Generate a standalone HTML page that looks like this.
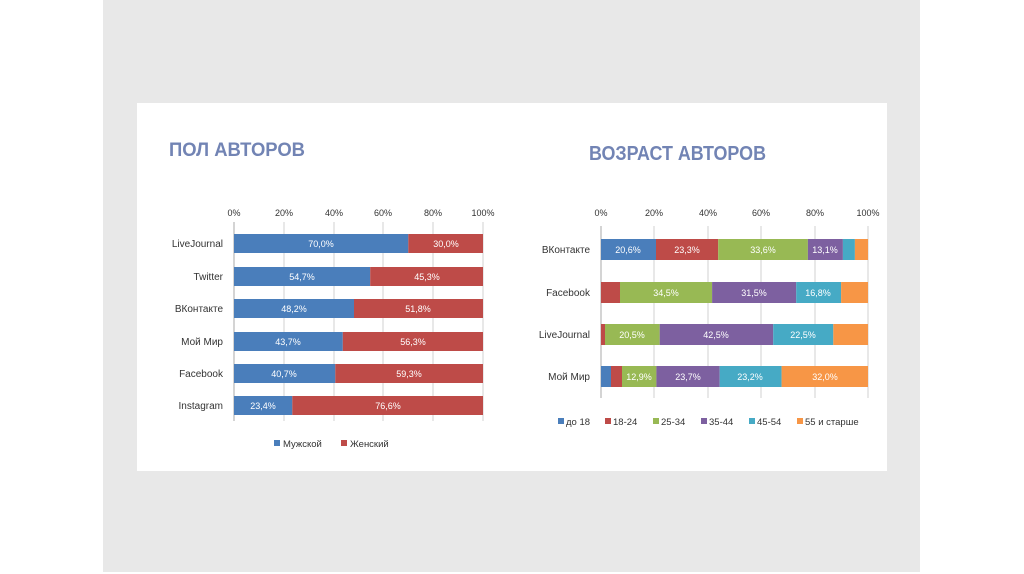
<!DOCTYPE html>
<html><head><meta charset="utf-8"><style>
html,body{margin:0;padding:0;background:#fff;}
svg{display:block;font-family:"Liberation Sans",sans-serif;}
</style></head><body>
<svg width="1024" height="574" viewBox="0 0 1024 574" xmlns="http://www.w3.org/2000/svg">
<rect x="0" y="0" width="1024" height="574" fill="#fff"/>
<rect x="103" y="0" width="817" height="572" fill="#e8e8e8"/>
<rect x="137" y="103" width="750" height="368" fill="#fff"/>
<text x="169" y="156" font-size="19" font-weight="bold" fill="#7284b4" textLength="136" lengthAdjust="spacingAndGlyphs">ПОЛ АВТОРОВ</text>
<text x="589" y="160" font-size="20" font-weight="bold" fill="#7284b4" textLength="177" lengthAdjust="spacingAndGlyphs">ВОЗРАСТ АВТОРОВ</text>

<!-- left chart -->
<g font-size="9" fill="#333">
<g text-anchor="middle">
<text x="234" y="216">0%</text><text x="284" y="216">20%</text><text x="334" y="216">40%</text><text x="383" y="216">60%</text><text x="433" y="216">80%</text><text x="483" y="216">100%</text>
</g>
<g stroke="#d0d0d0" stroke-width="1">
<line x1="284" y1="222" x2="284" y2="421"/><line x1="334" y1="222" x2="334" y2="421"/><line x1="383" y1="222" x2="383" y2="421"/><line x1="433" y1="222" x2="433" y2="421"/><line x1="483" y1="222" x2="483" y2="421"/>
<line x1="234" y1="222" x2="234" y2="421" stroke="#aaa"/>
</g>
<g text-anchor="end" font-size="10">
<text x="223" y="247">LiveJournal</text><text x="223" y="280">Twitter</text><text x="223" y="312">ВКонтакте</text><text x="223" y="345">Мой Мир</text><text x="223" y="377">Facebook</text><text x="223" y="409">Instagram</text>
</g>
<g>
<rect x="234" y="234" width="174.3" height="19" fill="#4a7ebb"/><rect x="408.3" y="234" width="74.7" height="19" fill="#be4b48"/>
<rect x="234" y="267" width="136.2" height="19" fill="#4a7ebb"/><rect x="370.2" y="267" width="112.8" height="19" fill="#be4b48"/>
<rect x="234" y="299" width="120" height="19" fill="#4a7ebb"/><rect x="354" y="299" width="129" height="19" fill="#be4b48"/>
<rect x="234" y="332" width="108.8" height="19" fill="#4a7ebb"/><rect x="342.8" y="332" width="140.2" height="19" fill="#be4b48"/>
<rect x="234" y="364" width="101.3" height="19" fill="#4a7ebb"/><rect x="335.3" y="364" width="147.7" height="19" fill="#be4b48"/>
<rect x="234" y="396" width="58.3" height="19" fill="#4a7ebb"/><rect x="292.3" y="396" width="190.7" height="19" fill="#be4b48"/>
</g>
<g text-anchor="middle" fill="#fff" font-size="9">
<text x="321" y="247">70,0%</text><text x="446" y="247">30,0%</text>
<text x="302" y="280">54,7%</text><text x="427" y="280">45,3%</text>
<text x="294" y="312">48,2%</text><text x="418" y="312">51,8%</text>
<text x="288" y="345">43,7%</text><text x="413" y="345">56,3%</text>
<text x="284" y="377">40,7%</text><text x="409" y="377">59,3%</text>
<text x="263" y="409">23,4%</text><text x="388" y="409">76,6%</text>
</g>
<rect x="274" y="440" width="6" height="6" fill="#4a7ebb"/><text x="283" y="447" font-size="9.5">Мужской</text>
<rect x="341" y="440" width="6" height="6" fill="#be4b48"/><text x="350" y="447" font-size="9.5">Женский</text>
</g>

<!-- right chart -->
<g font-size="9" fill="#333">
<g text-anchor="middle">
<text x="601" y="216">0%</text><text x="654" y="216">20%</text><text x="708" y="216">40%</text><text x="761" y="216">60%</text><text x="815" y="216">80%</text><text x="868" y="216">100%</text>
</g>
<g stroke="#d0d0d0" stroke-width="1">
<line x1="654" y1="226" x2="654" y2="398"/><line x1="708" y1="226" x2="708" y2="398"/><line x1="761" y1="226" x2="761" y2="398"/><line x1="815" y1="226" x2="815" y2="398"/><line x1="868" y1="226" x2="868" y2="398"/>
<line x1="601" y1="226" x2="601" y2="398" stroke="#aaa"/>
</g>
<g text-anchor="end" font-size="10">
<text x="590" y="253">ВКонтакте</text><text x="590" y="296">Facebook</text><text x="590" y="338">LiveJournal</text><text x="590" y="380">Мой Мир</text>
</g>
<!-- VK -->
<rect x="601" y="239" width="55" height="21" fill="#4a7ebb"/>
<rect x="656" y="239" width="62.2" height="21" fill="#be4b48"/>
<rect x="718.2" y="239" width="89.7" height="21" fill="#98b954"/>
<rect x="807.9" y="239" width="35" height="21" fill="#7d60a0"/>
<rect x="842.9" y="239" width="12" height="21" fill="#46aac5"/>
<rect x="854.9" y="239" width="13.1" height="21" fill="#f79646"/>
<!-- FB -->
<rect x="601" y="282" width="19" height="21" fill="#be4b48"/>
<rect x="620" y="282" width="92.1" height="21" fill="#98b954"/>
<rect x="712.1" y="282" width="84.1" height="21" fill="#7d60a0"/>
<rect x="796.2" y="282" width="44.9" height="21" fill="#46aac5"/>
<rect x="841.1" y="282" width="26.9" height="21" fill="#f79646"/>
<!-- LJ -->
<rect x="601" y="324" width="4" height="21" fill="#be4b48"/>
<rect x="605" y="324" width="54.7" height="21" fill="#98b954"/>
<rect x="659.7" y="324" width="113.5" height="21" fill="#7d60a0"/>
<rect x="773.2" y="324" width="60.1" height="21" fill="#46aac5"/>
<rect x="833.3" y="324" width="34.7" height="21" fill="#f79646"/>
<!-- MM -->
<rect x="601" y="366" width="10" height="21" fill="#4a7ebb"/>
<rect x="611" y="366" width="11" height="21" fill="#be4b48"/>
<rect x="622" y="366" width="34.4" height="21" fill="#98b954"/>
<rect x="656.4" y="366" width="63.3" height="21" fill="#7d60a0"/>
<rect x="719.7" y="366" width="61.9" height="21" fill="#46aac5"/>
<rect x="781.6" y="366" width="86.4" height="21" fill="#f79646"/>
<g text-anchor="middle" fill="#fff" font-size="9">
<text x="628" y="253">20,6%</text><text x="687" y="253">23,3%</text><text x="763" y="253">33,6%</text><text x="825" y="253">13,1%</text>
<text x="666" y="296">34,5%</text><text x="754" y="296">31,5%</text><text x="818" y="296">16,8%</text>
<text x="632" y="338">20,5%</text><text x="716" y="338">42,5%</text><text x="803" y="338">22,5%</text>
<text x="639" y="380">12,9%</text><text x="688" y="380">23,7%</text><text x="750" y="380">23,2%</text><text x="825" y="380">32,0%</text>
</g>
<g font-size="9.5">
<rect x="558" y="418" width="6" height="6" fill="#4a7ebb"/><text x="566" y="425">до 18</text>
<rect x="605" y="418" width="6" height="6" fill="#be4b48"/><text x="613" y="425">18-24</text>
<rect x="653" y="418" width="6" height="6" fill="#98b954"/><text x="661" y="425">25-34</text>
<rect x="701" y="418" width="6" height="6" fill="#7d60a0"/><text x="709" y="425">35-44</text>
<rect x="749" y="418" width="6" height="6" fill="#46aac5"/><text x="757" y="425">45-54</text>
<rect x="797" y="418" width="6" height="6" fill="#f79646"/><text x="805" y="425">55 и старше</text>
</g>
</g>
</svg>
</body></html>
